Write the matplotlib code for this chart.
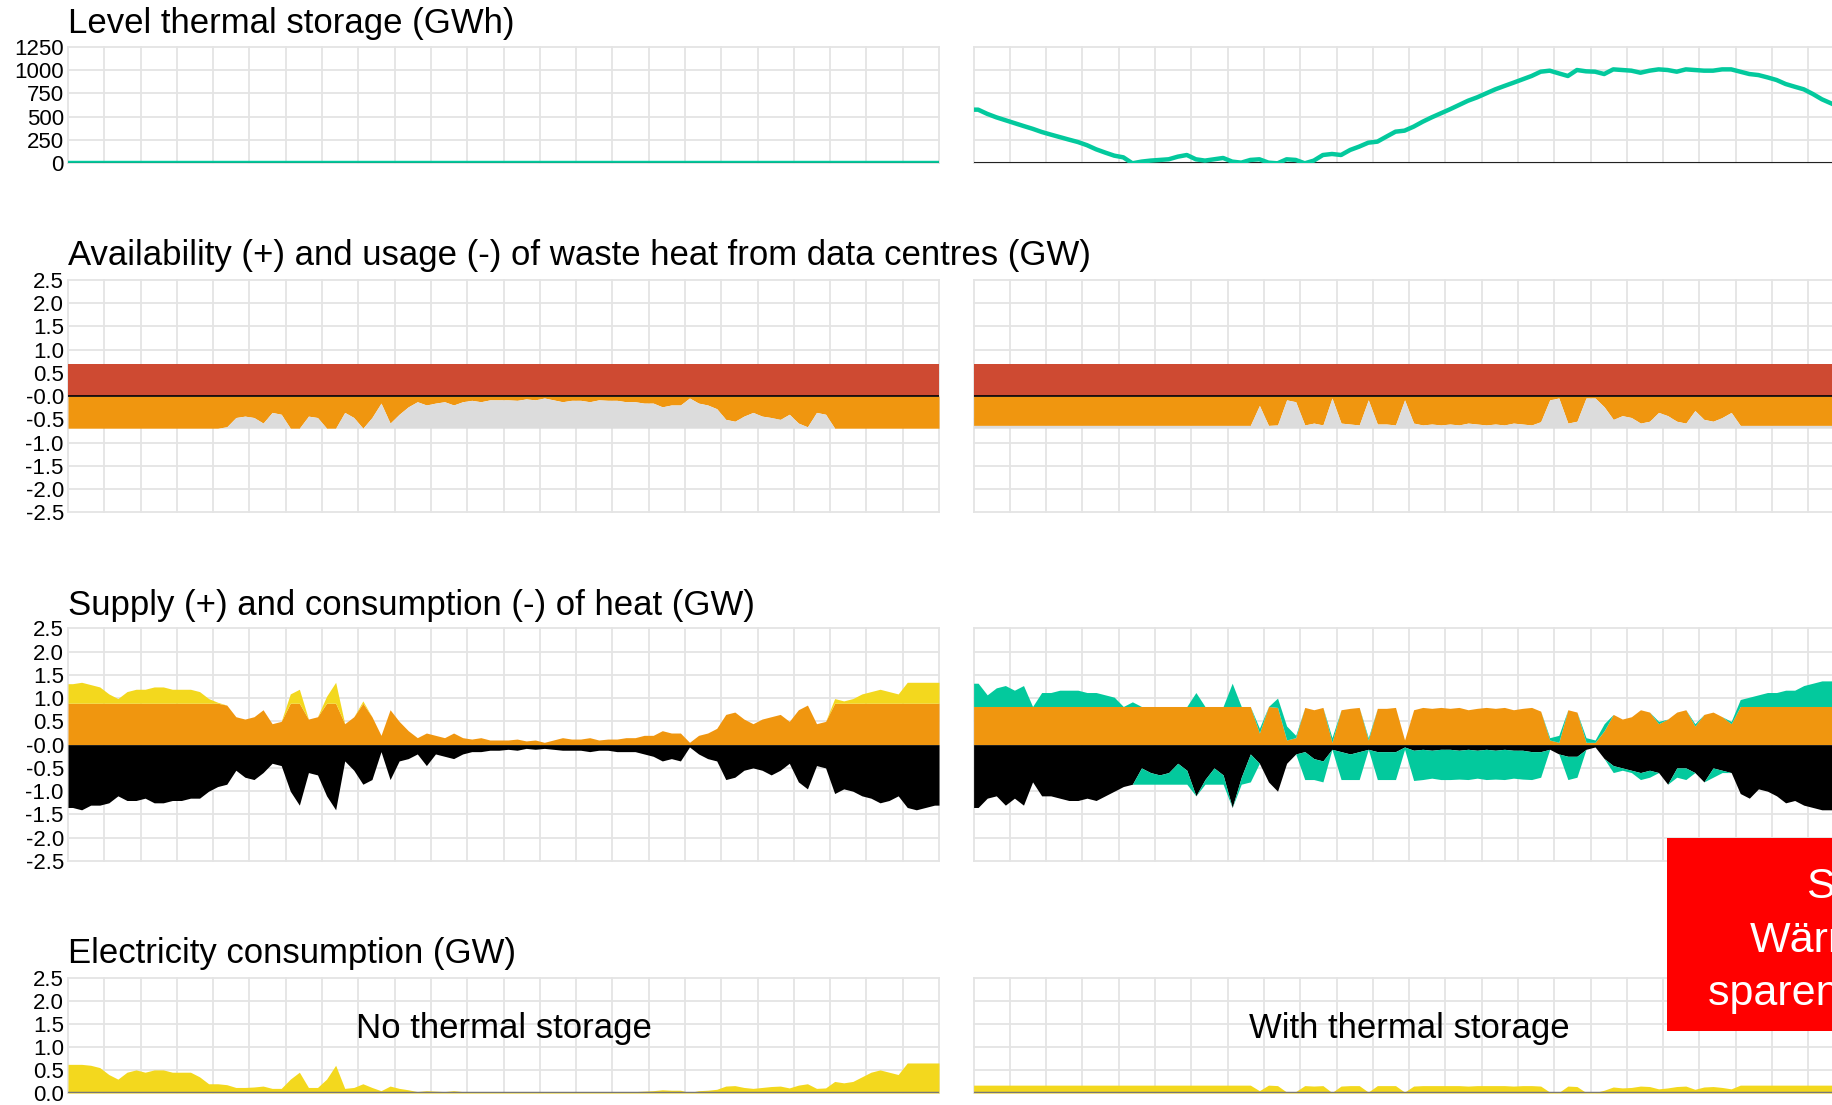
import numpy as np
import matplotlib.pyplot as plt
from matplotlib.patches import Rectangle

plt.rcParams['font.family'] = ['Liberation Sans', 'DejaVu Sans']

W, H = 1832, 1105

# one year, 96 samples (hours of year, centre of each ~3.8 day block)
hours = (np.arange(96) + 0.5) * 8760 / 96

# ---------------- no thermal storage ----------------
hp_no = [.89, .89, .89, .89, .89, .89, .89, .89, .89, .89, .89, .89,
         .89, .89, .89, .89, .89, .85, .60, .55, .60, .75, .45, .50,
         .89, .89, .55, .60, .89, .89, .45, .60, .89, .60, .20, .75,
         .50, .30, .15, .25, .20, .15, .25, .15, .12, .15, .10, .10,
         .10, .12, .08, .10, .05, .10, .15, .12, .12, .15, .10, .12,
         .12, .15, .15, .20, .20, .30, .25, .25, .05, .20, .25, .35,
         .65, .70, .55, .45, .55, .60, .65, .50, .75, .85, .45, .50,
         .89, .89, .89, .89, .89, .89, .89, .89, .89, .89, .89, .89]
direct_no = [.42, .45, .40, .35, .20, .10, .25, .30, .30, .35, .35, .30,
             .30, .30, .25, .10, .02, 0, 0, 0, 0, 0, 0, 0,
             .20, .30, 0, 0, .15, .45, 0, 0, .05, 0, 0, 0,
             0, 0, 0, 0, 0, 0, 0, 0, 0, 0, 0, 0,
             0, 0, 0, 0, 0, 0, 0, 0, 0, 0, 0, 0,
             0, 0, 0, 0, 0, 0, 0, 0, 0, 0, 0, 0,
             0, 0, 0, 0, 0, 0, 0, 0, 0, 0, 0, 0,
             .10, .05, .10, .20, .25, .30, .25, .20, .45, .45, .45, .45]
demand_no = [1.35, 1.40, 1.30, 1.30, 1.25, 1.10, 1.20, 1.20, 1.15, 1.25, 1.25, 1.20,
             1.20, 1.15, 1.15, 1.00, .90, .85, .55, .70, .75, .60, .40, .45,
             1.00, 1.30, .60, .65, 1.10, 1.40, .35, .55, .85, .75, .15, .75,
             .35, .30, .20, .45, .20, .25, .30, .20, .15, .15, .12, .12,
             .10, .12, .08, .10, .08, .10, .12, .12, .12, .15, .12, .12,
             .15, .15, .15, .20, .25, .35, .30, .35, .05, .20, .30, .35,
             .75, .70, .55, .50, .55, .65, .55, .40, .80, .95, .45, .50,
             1.05, .95, 1.00, 1.10, 1.15, 1.25, 1.20, 1.10, 1.35, 1.40, 1.35, 1.30]
waste_no = [.69, .69, .69, .69, .69, .69, .69, .69, .69, .69, .69, .69,
            .69, .69, .69, .69, .69, .66, .46, .43, .46, .58, .35, .39,
            .69, .69, .43, .46, .69, .69, .35, .46, .69, .46, .15, .58,
            .39, .23, .12, .19, .15, .12, .19, .12, .09, .12, .08, .08,
            .08, .09, .06, .08, .04, .08, .12, .09, .09, .12, .08, .09,
            .09, .12, .12, .15, .15, .23, .19, .19, .04, .15, .19, .27,
            .50, .54, .43, .35, .43, .46, .50, .39, .58, .66, .35, .39,
            .69, .69, .69, .69, .69, .69, .69, .69, .69, .69, .69, .69]
elec_no = [.62, .62, .60, .55, .40, .30, .45, .50, .45, .50, .50, .45,
           .45, .45, .35, .20, .20, .18, .12, .12, .13, .15, .10, .10,
           .30, .45, .12, .12, .30, .60, .10, .12, .20, .12, .05, .15,
           .10, .07, .03, .05, .04, .03, .05, .03, .03, .03, .02, .02,
           .02, .03, .02, .02, .01, .02, .03, .03, .03, .03, .02, .03,
           .03, .03, .03, .04, .05, .07, .06, .06, .01, .05, .06, .08,
           .15, .16, .12, .10, .12, .14, .15, .11, .17, .20, .10, .11,
           .25, .22, .25, .35, .45, .50, .45, .40, .65, .65, .65, .65]
level_no = [0] * 96

# ---------------- with thermal storage ----------------
level_st = [575, 530, 493, 462, 431, 400, 370, 336, 308, 281, 254, 228,
            194, 150, 115, 82, 64, 0, 18, 29, 36, 43, 71, 89,
            43, 29, 43, 57, 18, 7, 36, 43, 7, 0, 43, 36,
            0, 29, 89, 100, 89, 143, 179, 221, 232, 286, 339, 350,
            393, 446, 493, 536, 579, 625, 671, 707, 750, 793, 829, 864,
            900, 936, 982, 993, 964, 936, 1000, 986, 982, 957, 1007, 1000,
            993, 971, 993, 1007, 1000, 982, 1007, 1000, 993, 993, 1007, 1007,
            982, 957, 946, 921, 893, 850, 821, 793, 743, 686, 643, 600]
hp_st = [.82, .82, .82, .82, .82, .82, .82, .82, .82, .82, .82, .82,
         .82, .82, .82, .82, .82, .82, .82, .82, .82, .82, .82, .82,
         .82, .82, .82, .82, .82, .82, .82, .25, .82, .80, .10, .15,
         .80, .75, .80, .05, .75, .78, .80, .10, .78, .78, .80, .10,
         .75, .80, .78, .80, .78, .80, .75, .78, .80, .78, .80, .75,
         .78, .80, .72, .10, .05, .75, .70, .05, .05, .30, .65, .55,
         .60, .75, .70, .45, .55, .70, .75, .40, .65, .70, .60, .45,
         .82, .82, .82, .82, .82, .82, .82, .82, .82, .82, .82, .82]
discharge_st = [.50, .25, .40, .45, .35, .45, 0, .30, .30, .35, .35, .35,
                .30, .30, .25, .20, 0, .10, 0, 0, 0, 0, 0, 0,
                .30, 0, 0, 0, .50, 0, 0, .10, 0, .20, .30, .05,
                0, 0, 0, .10, 0, 0, 0, .05, 0, 0, 0, 0,
                0, 0, 0, 0, 0, 0, 0, 0, 0, 0, 0, 0,
                0, 0, 0, .05, .15, 0, 0, .10, .05, .15, 0, 0,
                0, 0, 0, .05, 0, 0, 0, .05, 0, 0, 0, .05,
                .15, .20, .25, .30, .30, .35, .35, .45, .50, .55, .55, .55]
charge_st = [0, 0, 0, 0, 0, 0, 0, 0, 0, 0, 0, 0,
             0, 0, 0, 0, 0, 0, .35, .25, .20, .25, .45, .30,
             0, .10, .35, .20, 0, .15, .60, 0, 0, 0, 0, 0,
             .60, .45, .45, 0, .60, .55, .60, 0, .60, .60, .60, .05,
             .65, .65, .60, .65, .65, .62, .65, .60, .65, .62, .65, .60,
             .62, .60, .55, 0, 0, .50, .45, 0, 0, 0, .15, .05,
             .05, .15, .15, 0, 0, .20, .25, 0, 0, .20, .05, 0,
             0, 0, 0, 0, 0, 0, 0, 0, 0, 0, 0, 0]
demand_st = [1.35, 1.15, 1.10, 1.30, 1.15, 1.30, .80, 1.10, 1.10, 1.15, 1.20, 1.20,
             1.15, 1.20, 1.10, 1.00, .90, .85, .50, .60, .65, .60, .40, .55,
             1.10, .75, .50, .65, 1.35, .70, .20, .40, .80, 1.00, .40, .20,
             .15, .30, .35, .10, .15, .20, .15, .10, .15, .15, .15, .05,
             .12, .10, .12, .10, .10, .12, .10, .12, .10, .12, .10, .12,
             .12, .15, .15, .10, .20, .25, .25, .10, .05, .30, .45, .50,
             .55, .60, .55, .60, .85, .50, .50, .60, .80, .50, .55, .60,
             1.05, 1.15, .95, 1.00, 1.10, 1.25, 1.20, 1.30, 1.35, 1.40, 1.40, 1.40]
waste_st = [.63, .63, .63, .63, .63, .63, .63, .63, .63, .63, .63, .63,
            .63, .63, .63, .63, .63, .63, .63, .63, .63, .63, .63, .63,
            .63, .63, .63, .63, .63, .63, .63, .20, .63, .62, .08, .12,
            .62, .58, .62, .04, .58, .60, .62, .08, .60, .60, .62, .08,
            .58, .62, .60, .62, .60, .62, .58, .60, .62, .60, .62, .58,
            .60, .62, .55, .08, .04, .58, .54, .04, .04, .23, .50, .42,
            .46, .58, .54, .35, .42, .54, .58, .31, .50, .54, .46, .35,
            .63, .63, .63, .63, .63, .63, .63, .63, .63, .63, .63, .63]
elec_st = [.17, .17, .17, .17, .17, .17, .17, .17, .17, .17, .17, .17,
           .17, .17, .17, .17, .17, .17, .17, .17, .17, .17, .17, .17,
           .17, .17, .17, .17, .17, .17, .17, .05, .17, .16, .02, .03,
           .16, .15, .16, .01, .15, .16, .16, .02, .16, .16, .16, .02,
           .15, .16, .16, .16, .16, .16, .15, .16, .16, .16, .16, .15,
           .16, .16, .15, .02, .01, .15, .14, .01, .01, .06, .13, .11,
           .12, .15, .14, .09, .11, .14, .15, .08, .13, .14, .12, .09,
           .17, .17, .17, .17, .17, .17, .17, .17, .17, .17, .17, .17]

waste_avail = 0.69

titles = ['Level thermal storage (GWh)',
          'Availability (+) and usage (-) of waste heat from data centres (GW)',
          'Supply (+) and consumption (-) of heat (GW)',
          'Electricity consumption (GW)']
scenario_labels = ['No thermal storage', 'With thermal storage']
note_lines = ['Saisonale', 'Wärmespeicher', 'sparen Stromkosten']

lvl_ticks = [0, 250, 500, 750, 1000, 1250]
lvl_labels = ['0', '250', '500', '750', '1000', '1250']
gw_ticks = [-2.5, -2.0, -1.5, -1.0, -0.5, 0, 0.5, 1.0, 1.5, 2.0, 2.5]
gw_labels = ['-2.5', '-2.0', '-1.5', '-1.0', '-0.5', '-0.0', '0.5', '1.0', '1.5', '2.0', '2.5']
el_ticks = [0, 0.5, 1.0, 1.5, 2.0, 2.5]
el_labels = ['0.0', '0.5', '1.0', '1.5', '2.0', '2.5']

RED = '#ce4a32'
ORANGE = '#f0960f'
GREY = '#dcdcdc'
YELLOW = '#f3d81e'
GREEN = '#03c99d'

xx = np.r_[0, hours, 8760]


def pad(v):
    v = np.asarray(v, dtype=float)
    return np.r_[v[0], v, v[-1]]


fig = plt.figure(figsize=(W / 100, H / 100), dpi=100)

cols = [(68, 939), (973.6, 1844.6)]
rows = [(46.7, 163.3), (280, 512.3), (628.3, 861), (977.5, 1093)]
title_base = [33, 265, 615, 963]


def make_ax(col, row):
    x0, x1 = cols[col]
    y0, y1 = rows[row]
    ax = fig.add_axes([x0 / W, 1 - y1 / H, (x1 - x0) / W, (y1 - y0) / H])
    ax.set_xlim(0, 8760)
    ax.set_xticks(np.arange(0, 8761, 365))
    ax.grid(True, color='#e4e4e4', lw=1.3)
    ax.set_axisbelow(True)
    ax.tick_params(length=0, labelbottom=False, pad=3, labelsize=16)
    for s in ax.spines.values():
        s.set_visible(False)
    ax.patch.set_alpha(0)
    return ax


def set_y(ax, lim, ticks, labels, col):
    ax.set_ylim(*lim)
    ax.set_yticks(ticks)
    if col == 0:
        ax.set_yticklabels(labels)
    else:
        ax.tick_params(labelleft=False)
    for ln in ax.get_xgridlines() + ax.get_ygridlines():
        ln.set_clip_on(False)


scen = [
    dict(level=level_no, waste=waste_no, hp=hp_no, top=direct_no, top_c=YELLOW,
         dem=demand_no, charge=None, elec=elec_no),
    dict(level=level_st, waste=waste_st, hp=hp_st, top=discharge_st, top_c=GREEN,
         dem=demand_st, charge=charge_st, elec=elec_st),
]

for c, d in enumerate(scen):
    # storage level
    ax = make_ax(c, 0)
    set_y(ax, (0, 1250), lvl_ticks, lvl_labels, c)
    ax.axhline(0, color='#222222', lw=1.5, zorder=2)
    ax.plot(xx, pad(d['level']), color=GREEN, lw=3.2, zorder=3)
    if c == 0:
        ax.axhline(0, color='#1a5e4c', lw=1.0, zorder=4)

    # waste heat
    ax = make_ax(c, 1)
    set_y(ax, (-2.5, 2.5), gw_ticks, gw_labels, c)
    w = pad(d['waste'])
    ax.fill_between([0, 8760], 0, waste_avail, color=RED, lw=0, zorder=2)
    ax.fill_between(xx, 0, -w, color=ORANGE, lw=0, zorder=2)
    ax.fill_between(xx, -w, -waste_avail, color=GREY, lw=0, zorder=2)
    ax.axhline(0, color='black', lw=1.2, zorder=3)

    # heat balance
    ax = make_ax(c, 2)
    set_y(ax, (-2.5, 2.5), gw_ticks, gw_labels, c)
    hp = pad(d['hp'])
    top = pad(d['top'])
    dem = pad(d['dem'])
    ax.fill_between(xx, 0, hp, color=ORANGE, lw=0, zorder=2)
    ax.fill_between(xx, hp, hp + top, color=d['top_c'], lw=0, zorder=2)
    ax.fill_between(xx, 0, -dem, color='black', lw=0, zorder=2)
    if d['charge'] is not None:
        ch = pad(d['charge'])
        ax.fill_between(xx, -dem, -dem - ch, color=GREEN, lw=0, zorder=2)

    # electricity
    ax = make_ax(c, 3)
    set_y(ax, (0, 2.5), el_ticks, el_labels, c)
    ax.fill_between(xx, 0, pad(d['elec']), color=YELLOW, lw=0, zorder=2)
    ax.axhline(0, color='#777777', lw=2.5, zorder=3)
    ax.text(4380, 1.4, scenario_labels[c], ha='center', va='center', fontsize=25)

for t, yb in zip(titles, title_base):
    fig.text(68 / W, 1 - yb / H, t, fontsize=25, ha='left', va='baseline')

# red note box (partly outside the picture, as in the original crop)
fig.add_artist(Rectangle((1667 / W, 1 - 1031 / H), (2140 - 1667) / W, (1031 - 838) / H,
                         transform=fig.transFigure, color='#ff0000', lw=0, zorder=5))
for line, yb in zip(note_lines, [898, 952, 1005]):
    fig.text(1901 / W, 1 - yb / H, line, color='white', fontsize=31,
             ha='center', va='baseline', zorder=6)

fig.savefig('out.png', dpi=100)
